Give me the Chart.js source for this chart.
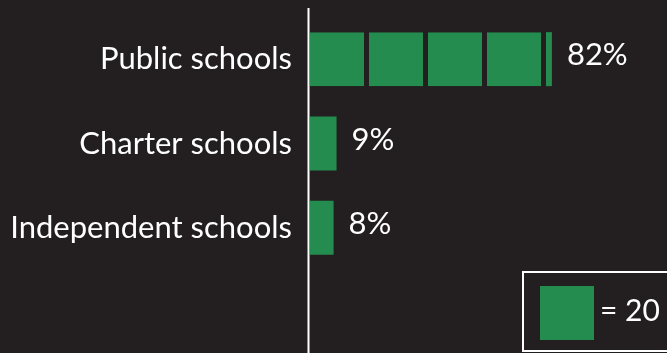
<!DOCTYPE html>
<html>
<head>
<meta charset="utf-8">
<script src="https://cdn.jsdelivr.net/npm/chart.js@4/dist/chart.umd.min.js"></script>
<style>
  html, body { margin: 0; padding: 0; background: #231f20; }
  #wrap { width: 667px; height: 353px; }
</style>
</head>
<body>
<div id="wrap"><canvas id="schoolChart"></canvas></div>
<script>
// Data
const categories = ['Public schools', 'Charter schools', 'Independent schools'];
const shares = [82, 9, 8];
const shareLabels = ['82%', '9%', '8%'];
const unitPerSquare = 20;

const bgColor = '#231f20';
const green = '#248c4f';
const fontFamily = 'Lato, "Open Sans", sans-serif';

// Split each bar into squares of unitPerSquare
const squareCount = Math.ceil(Math.max(...shares) / unitPerSquare);
const datasets = [];
for (let i = 0; i < squareCount; i++) {
    datasets.push({
        label: 'square ' + (i + 1),
        data: shares.map(v => Math.max(0, Math.min(unitPerSquare, v - i * unitPerSquare))),
        backgroundColor: green,
        borderColor: bgColor,
        // gap after a square only if another one follows
        borderWidth: ctx => ({
            top: 0, bottom: 0, left: 0,
            right: shares[ctx.dataIndex] > (ctx.datasetIndex + 1) * unitPerSquare ? 5 : 0
        }),
        borderSkipped: false,
        inflateAmount: 0,
        barThickness: 54,
    });
}

// Background fill
const backgroundPlugin = {
    id: 'background',
    beforeDraw(chart) {
        const ctx = chart.ctx;
        ctx.save();
        ctx.fillStyle = bgColor;
        ctx.fillRect(0, 0, chart.width, chart.height);
        ctx.restore();
    }
};

// White axis line running down to the bottom edge
const axisLinePlugin = {
    id: 'axisLine',
    afterDatasetsDraw(chart) {
        const ctx = chart.ctx;
        const x = chart.chartArea.left - 1.5;
        ctx.save();
        ctx.strokeStyle = '#ffffff';
        ctx.lineWidth = 2;
        ctx.beginPath();
        ctx.moveTo(x, chart.chartArea.top - 9);
        ctx.lineTo(x, chart.height);
        ctx.stroke();
        ctx.restore();
    }
};

// Percent labels at the end of each bar
const shareLabelPlugin = {
    id: 'shareLabels',
    afterDatasetsDraw(chart) {
        const ctx = chart.ctx;
        const xScale = chart.scales.x;
        const yScale = chart.scales.y;
        ctx.save();
        ctx.fillStyle = '#ffffff';
        ctx.font = '31px ' + fontFamily;
        ctx.textAlign = 'left';
        ctx.textBaseline = 'middle';
        shares.forEach((v, i) => {
            ctx.fillText(shareLabels[i], xScale.getPixelForValue(v) + 15, yScale.getPixelForValue(i) - 4);
        });
        ctx.restore();
    }
};

// Key in the bottom right corner: one square = unitPerSquare
const keyPlugin = {
    id: 'squareKey',
    afterDraw(chart) {
        const ctx = chart.ctx;
        const boxLeft = chart.width - 144;
        const boxTop = chart.height - 81;
        ctx.save();
        ctx.strokeStyle = '#ffffff';
        ctx.lineWidth = 2;
        ctx.strokeRect(boxLeft, boxTop, 200, 79);
        ctx.fillStyle = green;
        ctx.fillRect(boxLeft + 17, boxTop + 14, 54, 54);
        ctx.fillStyle = '#ffffff';
        ctx.font = '30px ' + fontFamily;
        ctx.textAlign = 'left';
        ctx.textBaseline = 'middle';
        ctx.fillText('= ' + unitPerSquare, boxLeft + 77, boxTop + 39);
        ctx.restore();
    }
};

const chartCtx = document.getElementById('schoolChart').getContext('2d');
const schoolChart = new Chart(chartCtx, {
    type: 'bar',
    data: {
        labels: categories,
        datasets: datasets,
    },
    options: {
        indexAxis: 'y',
        responsive: true,
        maintainAspectRatio: false,
        animation: false,
        layout: {
            padding: { top: 17, bottom: 83, left: 0, right: 3 }
        },
        plugins: {
            legend: { display: false },
            tooltip: { enabled: false },
        },
        scales: {
            x: {
                stacked: true,
                display: false,
                min: 0,
                max: 120,
            },
            y: {
                stacked: true,
                grid: { display: false, drawTicks: false },
                border: { display: false },
                ticks: {
                    color: '#ffffff',
                    padding: 18,
                    font: { family: fontFamily, size: 31 },
                },
                afterFit(scale) {
                    scale.width = 310;
                    scale.paddingTop = 0;
                    scale.paddingBottom = 0;
                },
            },
        },
    },
    plugins: [backgroundPlugin, axisLinePlugin, shareLabelPlugin, keyPlugin],
});
</script>
</body>
</html>
